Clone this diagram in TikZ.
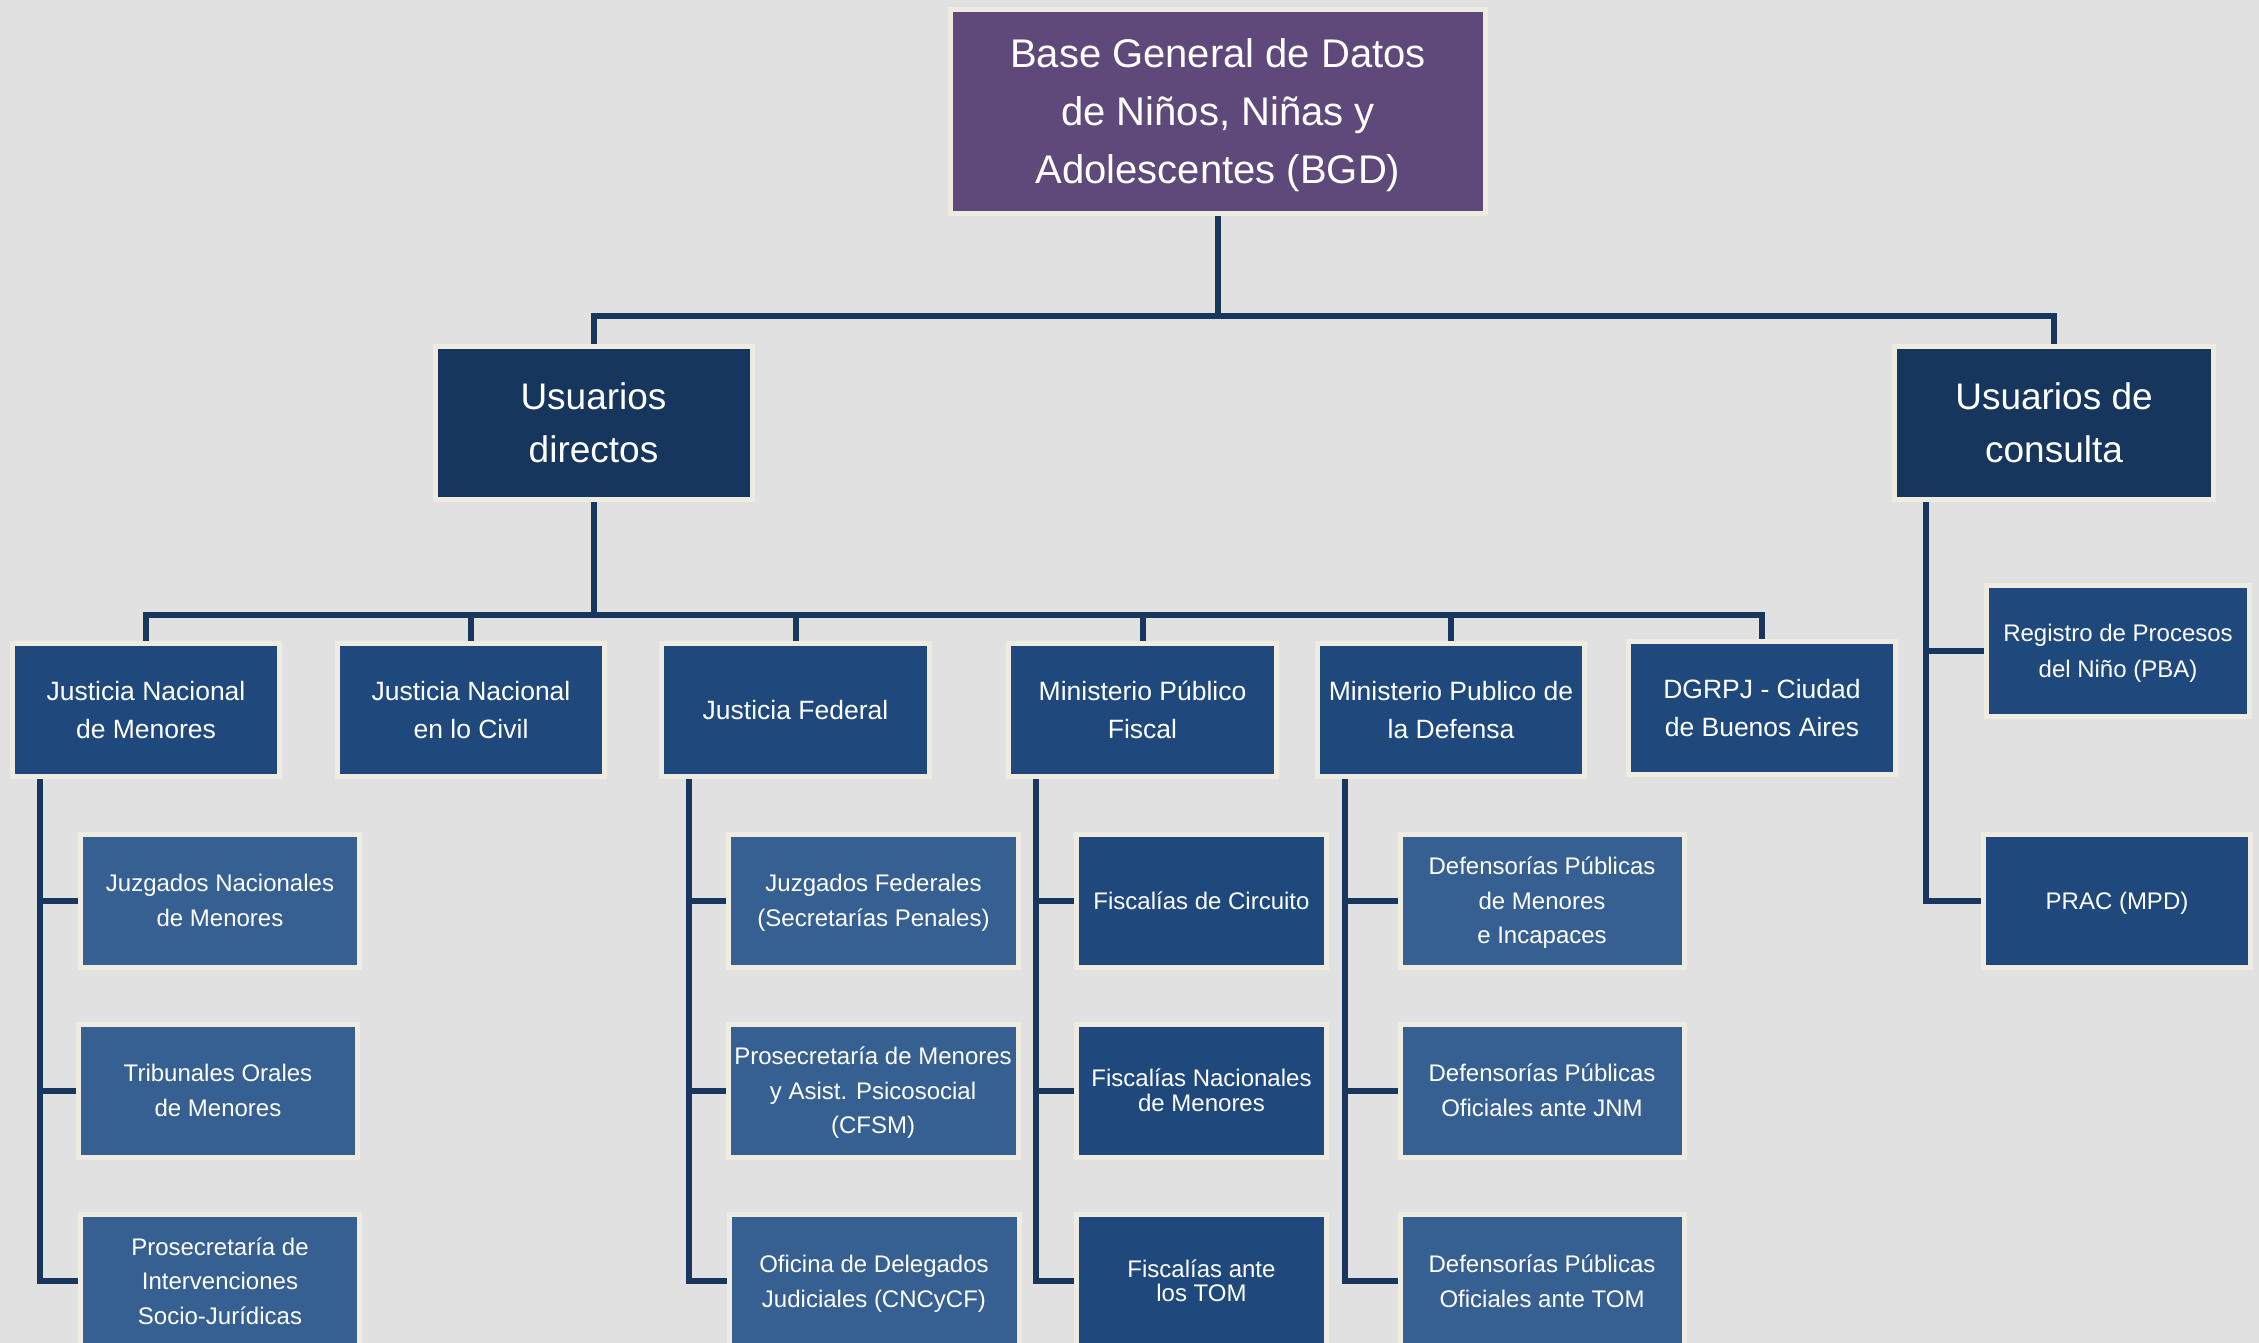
\documentclass[tikz,border=0pt]{standalone}
\usepackage{fontspec}
\setmainfont{Liberation Sans}
\usetikzlibrary{backgrounds}

\definecolor{fondo}{HTML}{E1E1E1}
\definecolor{borde}{HTML}{EEECE1}
\definecolor{morado}{HTML}{5F497A}
\definecolor{marino}{HTML}{17365D}
\definecolor{azul}{HTML}{1F497D}
\definecolor{celeste}{HTML}{366092}
\definecolor{linea}{HTML}{17375E}

\tikzset{
  caja/.style={draw=borde, line width=5pt, inner sep=0pt, outer sep=0pt, text=white, align=center},
  nivel/.style={caja, fill=azul, minimum width=267pt, minimum height=133pt, font=\fontsize{26.5}{37.5}\selectfont},
  hoja/.style={caja, minimum height=133pt, font=\fontsize{24}{34.6}\selectfont},
  conector/.style={draw=linea, line width=6pt}
}

\begin{document}
\begin{tikzpicture}[x=1pt,y=-1pt]
\useasboundingbox (0,0) rectangle (2259,1343);
\clip (0,0) rectangle (2259,1343);

% raiz
\node[caja, fill=morado, minimum width=535pt, minimum height=204pt, font=\fontsize{40}{58}\selectfont] (bgd) at (1218,111.5) {Base General de Datos\\de Niños, Niñas y\\\smash{Adolescentes (BGD)}};

% usuarios
\node[caja, fill=marino, minimum width=317pt, minimum height=153pt, font=\fontsize{37}{53.5}\selectfont] (ud) at (593.5,423) {Usuarios\\directos};
\node[caja, fill=marino, minimum width=319pt, minimum height=153pt, font=\fontsize{37}{53.5}\selectfont] (uc) at (2054,423) {Usuarios de\\consulta};

% organismos
\node[nivel] (jnm) at (146,710) {Justicia Nacional\\de Menores};
\node[nivel] (jnc) at (471,710) {Justicia Nacional\\en lo Civil};
\node[nivel, minimum width=268pt, text depth=0pt] (jf) at (795.5,710) {Justicia Federal};
\node[nivel, minimum width=268pt] (mpf) at (1142.5,710) {Ministerio Público\\Fiscal};
\node[nivel] (mpd) at (1451,710) {Ministerio Publico de\\la Defensa};
\node[nivel] (dgrpj) at (1762,708) {DGRPJ - Ciudad\\de Buenos Aires};

% dependencias JNM
\node[hoja, fill=celeste, minimum width=279pt] (jnmA) at (220,900.5) {Juzgados Nacionales\\de Menores};
\node[hoja, fill=celeste, minimum width=279pt] (jnmB) at (218,1090.5) {Tribunales Orales\\de Menores};
\node[hoja, fill=celeste, minimum width=279pt] (jnmC) at (220,1281) {Prosecretaría de\\Intervenciones\\Socio-Jurídicas};

% dependencias JF
\node[hoja, fill=celeste, minimum width=290pt] (jfA) at (873.5,900.5) {Juzgados Federales\\\smash{(Secretarías Penales)}};
\node[hoja, fill=celeste, minimum width=290pt] (jfB) at (873,1090.5) {Prosecretaría de Menores\\y Asist. Psicosocial\\\smash{(CFSM)}};
\node[hoja, fill=celeste, minimum width=290pt] (jfC) at (874,1281) {Oficina de Delegados\\\smash{Judiciales (CNCyCF)}};

% dependencias MPF
\node[hoja, fill=azul, minimum width=250pt, text depth=0pt] (mpfA) at (1201.5,900.5) {Fiscalías de Circuito};
\node[hoja, fill=azul, minimum width=250pt, font=\fontsize{24}{24.5}\selectfont] (mpfB) at (1201.5,1090.5) {Fiscalías Nacionales\\de Menores};
\node[hoja, fill=azul, minimum width=250pt, font=\fontsize{24}{24.5}\selectfont] (mpfC) at (1201.5,1281) {Fiscalías ante\\los TOM};

% dependencias MPD
\node[hoja, fill=celeste, minimum width=284pt] (mpdA) at (1542,900.5) {Defensorías Públicas\\de Menores\\\smash{e Incapaces}};
\node[hoja, fill=celeste, minimum width=284pt] (mpdB) at (1542,1090.5) {Defensorías Públicas\\Oficiales ante JNM};
\node[hoja, fill=celeste, minimum width=284pt] (mpdC) at (1542,1281) {Defensorías Públicas\\Oficiales ante TOM};

% consulta
\node[hoja, fill=azul, minimum width=263pt, minimum height=131pt, font=\fontsize{24}{35.5}\selectfont] (reg) at (2118,651) {Registro de Procesos\\\smash{del Niño (PBA)}};
\node[hoja, fill=azul, minimum width=267pt, text depth=0pt] (prac) at (2117,900.5) {PRAC (MPD)};

\coordinate (bus1) at (0,316);
\coordinate (bus2) at (0,615);

\begin{pgfonlayer}{background}
\fill[fondo] (0,0) rectangle (2259,1343);

\draw[conector] (bgd.south) -- (bgd.south |- bus1);
\draw[conector] (ud.north) -- (bus1 -| ud) -- (bus1 -| uc) -- (uc.north);

\draw[conector] (ud.south) -- (ud.south |- bus2);
\draw[conector] (jnm.north) -- (bus2 -| jnm) -- (bus2 -| dgrpj) -- (dgrpj.north);
\draw[conector] (bus2 -| jnc) -- (jnc.north);
\draw[conector] (bus2 -| jf) -- (jf.north);
\draw[conector] (bus2 -| mpf) -- (mpf.north);
\draw[conector] (bus2 -| mpd) -- (mpd.north);

\draw[conector] (jnmA.west) -| ([xshift=27pt]jnm.south west);
\draw[conector] (jnmB.west) -| ([xshift=27pt]jnm.south west);
\draw[conector] (jnmC.west) -| ([xshift=27pt]jnm.south west);

\draw[conector] (jfA.west) -| ([xshift=27pt]jf.south west);
\draw[conector] (jfB.west) -| ([xshift=27pt]jf.south west);
\draw[conector] (jfC.west) -| ([xshift=27pt]jf.south west);

\draw[conector] (mpfA.west) -| ([xshift=27pt]mpf.south west);
\draw[conector] (mpfB.west) -| ([xshift=27pt]mpf.south west);
\draw[conector] (mpfC.west) -| ([xshift=27pt]mpf.south west);

\draw[conector] (mpdA.west) -| ([xshift=27pt]mpd.south west);
\draw[conector] (mpdB.west) -| ([xshift=27pt]mpd.south west);
\draw[conector] (mpdC.west) -| ([xshift=27pt]mpd.south west);

\draw[conector] (reg.west) -| ([xshift=31pt]uc.south west);
\draw[conector] (prac.west) -| ([xshift=31pt]uc.south west);
\end{pgfonlayer}

\end{tikzpicture}
\end{document}
